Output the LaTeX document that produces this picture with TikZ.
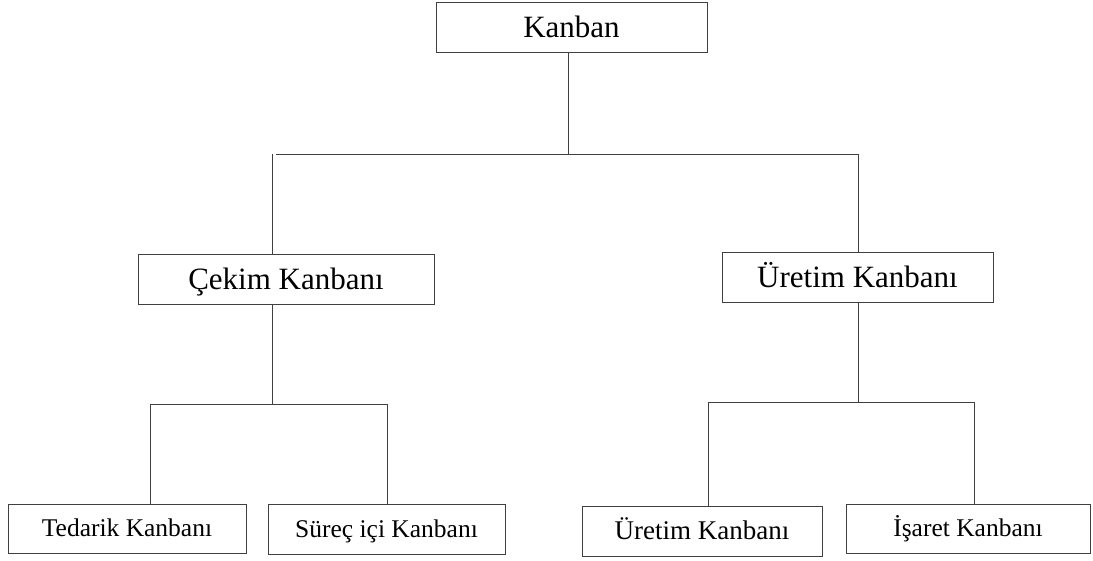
\documentclass[tikz,border=0pt]{standalone}
\usepackage{fontspec}
\setmainfont{Liberation Serif}
\begin{document}
\begin{tikzpicture}[x=1pt,y=-1pt,
  box/.style={draw=black!75,line width=0.9pt,inner sep=0pt,
    text depth=0pt,align=center},
  bigbox/.style={box,font=\fontsize{31}{36}\selectfont,text height=20.5pt},
  smallbox/.style={box,font=\fontsize{25.5}{30}\selectfont,text height=16.9pt},
  conn/.style={draw=black!75,line width=0.9pt}]
\useasboundingbox (0,0) rectangle (1093,561);

% boxes
\node[bigbox,minimum width=271pt,minimum height=50pt] (kanban) at (571.5,27) {Kanban};
\node[bigbox,minimum width=296pt,minimum height=50pt] (cekim) at (286,279) {Çekim Kanbanı};
\node[bigbox,minimum width=271pt,minimum height=50pt] (uretim) at (857.5,277) {Üretim Kanbanı};
\node[smallbox,minimum width=238pt,minimum height=49pt] (tedarik) at (127,528.5) {Tedarik Kanbanı};
\node[smallbox,minimum width=237pt,minimum height=50pt] (surec) at (386.5,529) {Süreç içi Kanbanı};
\node[smallbox,font=\fontsize{27}{32}\selectfont,text height=17.9pt,minimum width=240pt,minimum height=50pt] (uretimb) at (702,531) {Üretim Kanbanı};
\node[smallbox,minimum width=244pt,minimum height=49pt] (isaret) at (968,528.5) {İşaret Kanbanı};

% junction points
\coordinate (k0) at (568,154);
\coordinate (kl) at (272,154);
\coordinate (klh) at (276,154);
\coordinate (kr) at (858,154);
\coordinate (c0) at (272,404);
\coordinate (cl) at (150,404);
\coordinate (cr) at (387,404);
\coordinate (u0) at (858,402);
\coordinate (ul) at (708,402);
\coordinate (ur) at (974,402);

% first level
\draw[conn] (kanban.south -| k0) -- (k0);
\draw[conn] (klh) -- (kr);
\draw[conn] (kl) -- (cekim.north -| kl);
\draw[conn] (kr) -- (uretim.north -| kr);

% left branch
\draw[conn] (cekim.south -| c0) -- (c0);
\draw[conn] (cl) -- (cr);
\draw[conn] (cl) -- (tedarik.north -| cl);
\draw[conn] (cr) -- (surec.north -| cr);

% right branch
\draw[conn] (uretim.south -| u0) -- (u0);
\draw[conn] (ul) -- (ur);
\draw[conn] (ul) -- (uretimb.north -| ul);
\draw[conn] (ur) -- (isaret.north -| ur);
\end{tikzpicture}
\end{document}
